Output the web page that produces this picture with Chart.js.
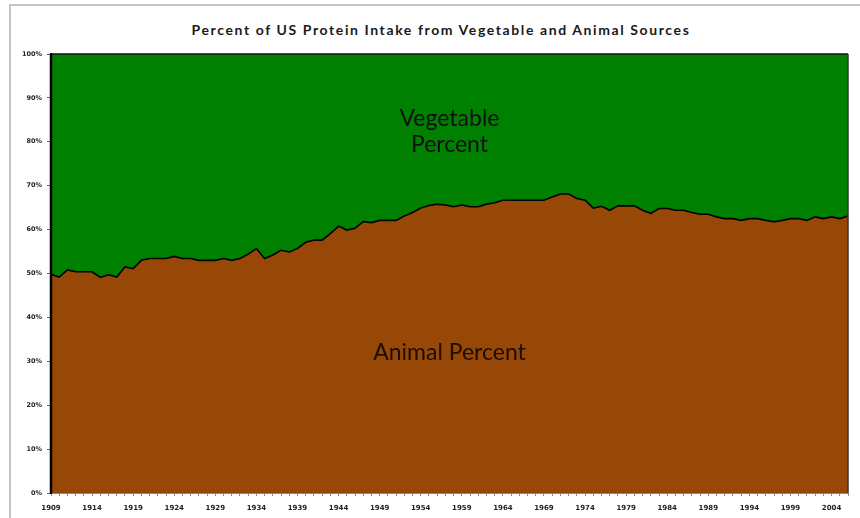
<!DOCTYPE html>
<html>
<head>
<meta charset="utf-8">
<script src="https://cdn.jsdelivr.net/npm/chart.js@4/dist/chart.umd.min.js"></script>
<style>
  html, body { margin:0; padding:0; background:#fff; width:860px; height:518px; overflow:hidden; }
  #frame { position:absolute; left:9px; top:4px; width:900px; height:560px; border-left:2px solid #c4c4c4; border-top:2px solid #c4c4c4; }
  #title { position:absolute; left:0; top:21px; width:882px; text-align:center; font-family:Lato, "Open Sans", sans-serif; font-weight:bold; font-size:14px; color:#1a1a1a; letter-spacing:1.6px; }
  #wrap { position:absolute; left:0; top:0; width:860px; height:518px; }
</style>
</head>
<body>
<div id="frame"></div>
<div id="title">Percent of US Protein Intake from Vegetable and Animal Sources</div>
<div id="wrap"><canvas id="c" width="860" height="518"></canvas></div>
<script>
// ---- Data ----
const years = [];
for (let y = 1909; y <= 2006; y++) years.push(String(y));

const animalPercent = [
  49.8, 49.2, 50.8, 50.4, 50.4, 50.4, 49.1, 49.7, 49.2, 51.5, // 1909-1918
  51.1, 53.0, 53.4, 53.4, 53.4, 53.9, 53.4, 53.4, 53.0, 53.0, // 1919-1928
  53.0, 53.4, 53.0, 53.4, 54.4, 55.7, 53.4, 54.2, 55.3, 54.9, // 1929-1938
  55.7, 57.1, 57.6, 57.6, 59.1, 60.8, 59.9, 60.3, 61.8, 61.6, // 1939-1948
  62.1, 62.1, 62.1, 63.1, 63.9, 64.9, 65.5, 65.8, 65.6, 65.2, // 1949-1958
  65.6, 65.2, 65.2, 65.8, 66.1, 66.7, 66.7, 66.7, 66.7, 66.7, // 1959-1968
  66.7, 67.4, 68.1, 68.1, 67.1, 66.7, 64.9, 65.3, 64.4, 65.4, // 1969-1978
  65.4, 65.4, 64.4, 63.7, 64.8, 64.8, 64.4, 64.4, 63.9, 63.5, // 1979-1988
  63.5, 62.9, 62.5, 62.5, 62.1, 62.5, 62.5, 62.1, 61.8, 62.1, // 1989-1998
  62.5, 62.5, 62.1, 62.9, 62.5, 62.9, 62.5, 63.1              // 1999-2006
];
const vegetablePercent = animalPercent.map(v => +(100 - v).toFixed(1));

const yTicks = [0, 10, 20, 30, 40, 50, 60, 70, 80, 90, 100];
const labelEvery = 5;

// in-chart text labels (text, y-value where baseline sits)
const areaLabels = [
  { text: "Vegetable", value: 83.5, color: "#101010" },
  { text: "Percent",   value: 77.6, color: "#101010" },
  { text: "Animal Percent", value: 30.3, color: "#1a0f00" }
];

const GREEN = "#008000";
const BROWN = "#974806";

const labelPlugin = {
  id: "areaLabels",
  afterDatasetsDraw(chart) {
    const { ctx, chartArea, scales } = chart;
    const cx = (chartArea.left + chartArea.right) / 2;
    ctx.save();
    ctx.font = "23px Lato, 'Open Sans', sans-serif";
    ctx.textAlign = "center";
    ctx.textBaseline = "alphabetic";
    areaLabels.forEach(l => {
      ctx.fillStyle = l.color;
      ctx.fillText(l.text, cx, scales.y.getPixelForValue(l.value));
    });
    // plot border
    ctx.strokeStyle = "#111";
    ctx.lineWidth = 1.5;
    ctx.beginPath();
    ctx.moveTo(chartArea.left, chartArea.top);
    ctx.lineTo(chartArea.right, chartArea.top);
    ctx.stroke();
    ctx.strokeStyle = "#333";
    ctx.beginPath();
    ctx.moveTo(chartArea.right, chartArea.top);
    ctx.lineTo(chartArea.right, chartArea.bottom);
    ctx.stroke();
    ctx.strokeStyle = "#000";
    ctx.lineWidth = 2.5;
    ctx.beginPath();
    ctx.moveTo(chartArea.left, chartArea.top);
    ctx.lineTo(chartArea.left, chartArea.bottom);
    ctx.stroke();
    ctx.restore();
  }
};

new Chart(document.getElementById("c"), {
  type: "line",
  data: {
    labels: years,
    datasets: [
      {
        label: "Animal Percent",
        data: animalPercent,
        fill: "origin",
        backgroundColor: BROWN,
        borderColor: "#000",
        borderWidth: 1.6,
        pointRadius: 0,
        tension: 0
      },
      {
        label: "Vegetable Percent",
        data: vegetablePercent,
        fill: "-1",
        backgroundColor: GREEN,
        borderColor: GREEN,
        borderWidth: 0,
        pointRadius: 0,
        tension: 0
      }
    ]
  },
  options: {
    responsive: false,
    animation: false,
    events: [],
    layout: { padding: { left: 0, top: 54, right: 12, bottom: 0 } },
    plugins: {
      legend: { display: false },
      title: { display: false },
      tooltip: { enabled: false }
    },
    scales: {
      x: {
        offset: false,
        grid: { display: true, drawOnChartArea: false, drawTicks: true, tickLength: 3, color: "#8a8a8a" },
        border: { display: true, color: "#8a8a8a", width: 1 },
        ticks: {
          autoSkip: false,
          maxRotation: 0,
          minRotation: 0,
          padding: 8,
          color: "#222",
          font: { family: "'DejaVu Sans', sans-serif", size: 7, weight: "bold" },
          callback: function (val, idx) {
            return idx % labelEvery === 0 ? this.getLabelForValue(val) : "";
          }
        },
        afterFit(scale) { scale.height = 25; }
      },
      y: {
        stacked: true,
        min: 0,
        max: 100,
        afterBuildTicks(scale) { scale.ticks = yTicks.map(v => ({ value: v })); },
        grid: { display: true, drawOnChartArea: false, drawTicks: true, tickLength: 4, color: "#666" },
        border: { display: true, color: "#000", width: 2 },
        ticks: {
          padding: 5,
          color: "#222",
          font: { family: "'DejaVu Sans', sans-serif", size: 6.5, weight: "bold" },
          callback: v => v + "%"
        },
        afterFit(scale) { scale.width = 51; }
      }
    }
  },
  plugins: [labelPlugin]
});
</script>
</body>
</html>
